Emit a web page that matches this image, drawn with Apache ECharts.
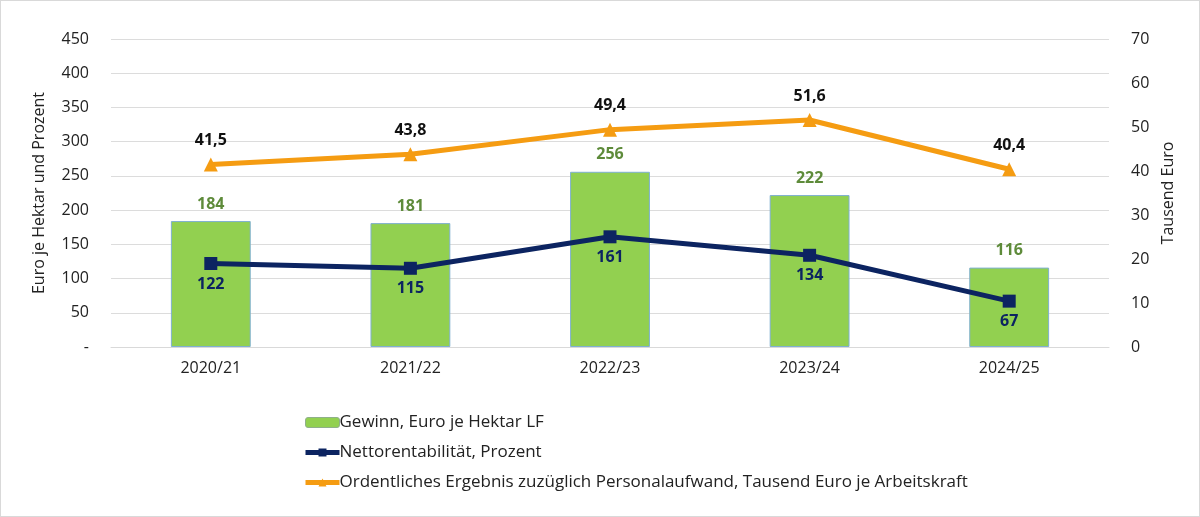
<!DOCTYPE html>
<html>
<head>
<meta charset="utf-8">
<script src="https://cdn.jsdelivr.net/npm/echarts@6/dist/echarts.min.js"></script>
<style>
  html, body { margin: 0; padding: 0; background: #fff; }
  #main { width: 1200px; height: 517px; box-sizing: border-box; border: 1px solid #d9d9d9; }
</style>
</head>
<body>
<div id="main"></div>
<script>
// Daten
var jahre = ['2020/21', '2021/22', '2022/23', '2023/24', '2024/25'];
var gewinn = [184, 181, 256, 222, 116];
var nettorentabilitaet = [122, 115, 161, 134, 67];
var ergebnisAK = [41.5, 43.8, 49.4, 51.6, 40.4];

var namen = [
  'Gewinn, Euro je Hektar LF',
  'Nettorentabilität, Prozent',
  'Ordentliches Ergebnis zuzüglich Personalaufwand, Tausend Euro je Arbeitskraft'
];

var navy = '#0c2461';
var orange = '#f59c12';
var font = '"Open Sans", "Noto Sans", sans-serif';
var myChart = echarts.init(document.getElementById('main'));

var option = {
  textStyle: { fontFamily: font },
  animation: false,
  grid: { left: 110, right: 90, top: 38, bottom: 169 },
  legend: {
    orient: 'vertical',
    left: 297,
    top: 408,
    itemWidth: 34,
    itemHeight: 10,
    itemGap: 13,
    textStyle: { fontSize: 17, color: '#222', fontFamily: font, padding: [0, 0, 0, -5] },
    data: [
      { name: namen[0], itemStyle: { borderColor: '#8fb08a', borderWidth: 1 } },
      { name: namen[1], lineStyle: { width: 5 } },
      { name: namen[2], lineStyle: { width: 5 } }
    ]
  },
  xAxis: {
    type: 'category',
    data: jahre,
    axisTick: { show: false },
    axisLine: { lineStyle: { color: '#d9d9d9' } },
    axisLabel: { fontSize: 16, color: '#222', margin: 13 }
  },
  yAxis: [
    {
      type: 'value',
      min: 0, max: 450, interval: 50,
      name: 'Euro je Hektar und Prozent',
      nameLocation: 'middle',
      nameGap: 64,
      nameTextStyle: { fontSize: 16, color: '#222' },
      axisLabel: {
        fontSize: 16, color: '#222', margin: 22,
        formatter: function (v) { return v === 0 ? '-' : v; }
      },
      splitLine: { lineStyle: { color: '#dcdcdc' } }
    },
    {
      type: 'value',
      min: 0, max: 70, interval: 10,
      name: 'Tausend Euro',
      nameLocation: 'middle',
      nameGap: 50,
      nameTextStyle: { fontSize: 16, color: '#222' },
      axisLabel: { fontSize: 16, color: '#222', margin: 22 },
      splitLine: { show: false }
    }
  ],
  series: [
    {
      name: namen[0],
      type: 'bar',
      data: gewinn,
      barWidth: '40%',
      itemStyle: { color: '#92d050', borderColor: '#7fb0d0', borderWidth: 1 },
      label: {
        show: true, position: 'top', distance: 9,
        fontSize: 16, fontWeight: 'bold', color: '#5e8b3a'
      }
    },
    {
      name: namen[1],
      type: 'line',
      data: nettorentabilitaet,
      symbol: 'rect',
      symbolSize: 13,
      lineStyle: { color: navy, width: 5 },
      itemStyle: { color: navy },
      label: {
        show: true, position: 'bottom', distance: 6,
        fontSize: 16, fontWeight: 'bold', color: navy
      }
    },
    {
      name: namen[2],
      type: 'line',
      yAxisIndex: 1,
      data: ergebnisAK,
      symbol: 'triangle',
      symbolSize: 14,
      lineStyle: { color: orange, width: 5 },
      itemStyle: { color: orange },
      label: {
        show: true, position: 'top', distance: 9,
        fontSize: 16, fontWeight: 'bold', color: '#111',
        formatter: function (p) { return p.value.toFixed(1).replace('.', ','); }
      }
    }
  ]
};

myChart.setOption(option);
</script>
</body>
</html>
